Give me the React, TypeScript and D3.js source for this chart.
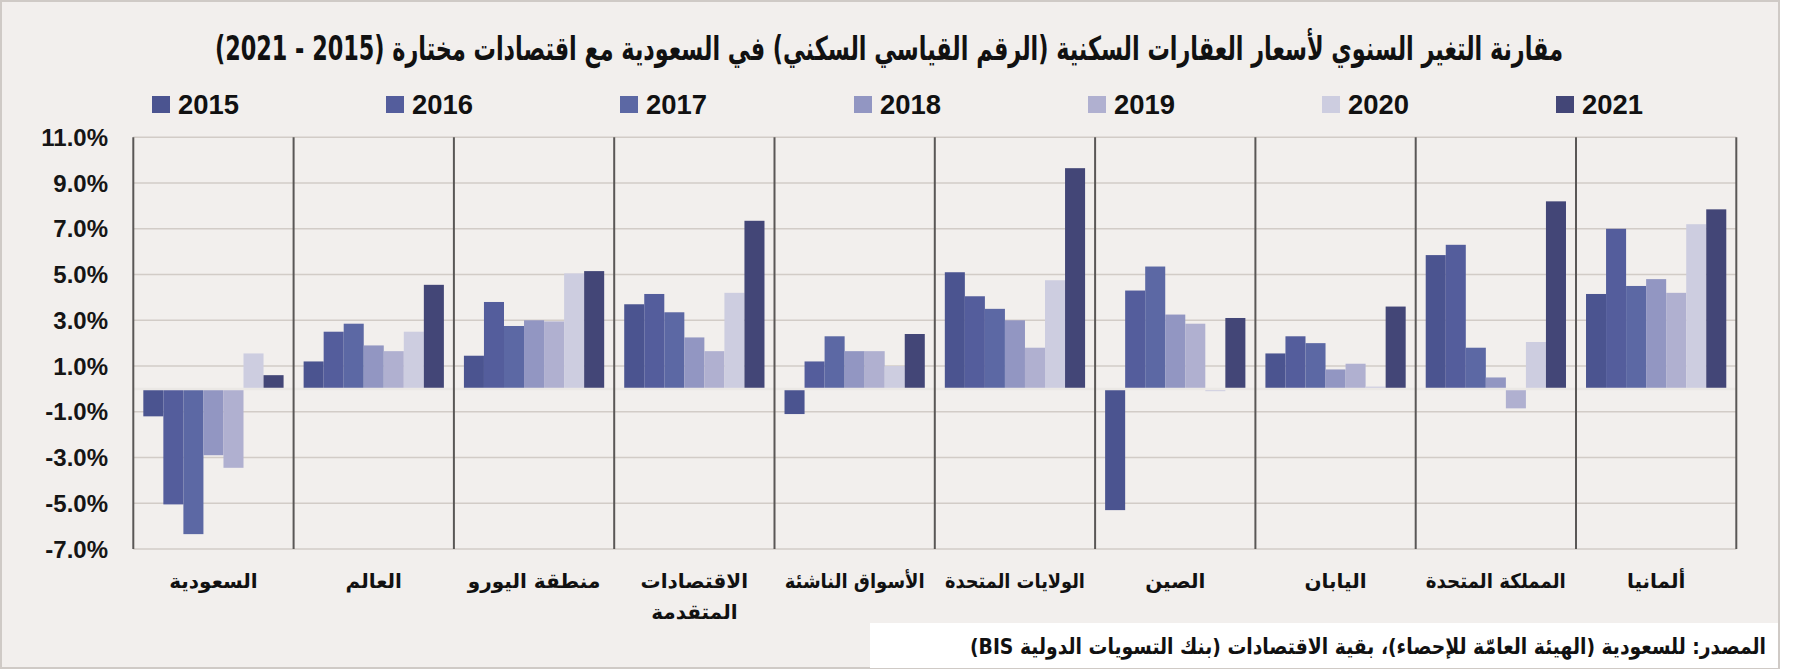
import React, { useEffect, useRef } from "react";
import * as d3 from "d3";

const categories = [
  "السعودية",
  "العالم",
  "منطقة اليورو",
  "الاقتصادات\nالمتقدمة",
  "الأسواق الناشئة",
  "الولايات المتحدة",
  "الصين",
  "اليابان",
  "المملكة المتحدة",
  "ألمانيا",
];
const years = ["2015", "2016", "2017", "2018", "2019", "2020", "2021"];

const s2015 = [-1.2, 1.2, 1.45, 3.7, -1.1, 5.1, -5.3, 1.55, 5.85, 4.15];
const s2016 = [-5.05, 2.5, 3.8, 4.15, 1.2, 4.05, 4.3, 2.3, 6.3, 7.0];
const s2017 = [-6.35, 2.85, 2.75, 3.35, 2.3, 3.5, 5.35, 2.0, 1.8, 4.5];
const s2018 = [-2.9, 1.9, 3.0, 2.25, 1.65, 3.0, 3.25, 0.85, 0.5, 4.8];
const s2019 = [-3.45, 1.65, 2.95, 1.65, 1.65, 1.8, 2.85, 1.1, -0.85, 4.2];
const s2020 = [1.55, 2.5, 5.05, 4.2, 1.0, 4.75, -0.1, 0.1, 2.05, 7.2];
const s2021 = [0.6, 4.55, 5.15, 7.35, 2.4, 9.65, 3.1, 3.6, 8.2, 7.85];
const series = [s2015, s2016, s2017, s2018, s2019, s2020, s2021];

const colors = ["#4b5490", "#545d9c", "#5c68a4", "#9296c2", "#b0b0d0", "#cdcde0", "#434677"];
const tickValues = [11, 9, 7, 5, 3, 1, -1, -3, -5, -7];

const title =
  "مقارنة التغير السنوي لأسعار العقارات السكنية (الرقم القياسي السكني) في السعودية مع اقتصادات مختارة (2015 - 2021)";
const source = "المصدر: للسعودية (الهيئة العامّة للإحصاء)، بقية الاقتصادات (بنك التسويات الدولية BIS)";

const W = 1795;
const H = 672;
const arabicFont = "'DejaVu Sans', sans-serif";
const latinFont = "'Liberation Sans', Arial, sans-serif";

export default function App() {
  const ref = useRef<SVGSVGElement>(null);

  useEffect(() => {
    document.body.style.margin = "0";
    const svg = d3.select(ref.current);
    svg.selectAll("*").remove();

    svg.append("rect").attr("width", W).attr("height", H).attr("fill", "#ffffff");
    svg
      .append("rect")
      .attr("x", 1)
      .attr("y", 1)
      .attr("width", 1778)
      .attr("height", 667)
      .attr("fill", "#f2efed")
      .attr("stroke", "#cfcac6")
      .attr("stroke-width", 2);

    const left = 133.3,
      right = 1736.3,
      top = 137.3,
      bottom = 549;

    const x0 = d3.scaleBand().domain(categories).range([left, right]);
    const x1 = d3
      .scaleBand()
      .domain(years)
      .range([0, x0.bandwidth()])
      .paddingInner(0)
      .paddingOuter(0.5);
    const y = d3.scaleLinear().domain([-7, 11]).range([bottom, top]);

    // title (squeezed to the width of the original)
    svg
      .append("text")
      .attr("x", 889)
      .attr("y", 60)
      .attr("text-anchor", "middle")
      .style("direction", "rtl")
      .attr("font-family", arabicFont)
      .attr("font-weight", "bold")
      .attr("font-size", 33)
      .attr("textLength", 1348)
      .attr("lengthAdjust", "spacingAndGlyphs")
      .attr("fill", "#111")
      .text(title);

    // legend
    const lg = svg.append("g");
    years.forEach((yr, i) => {
      const lx = 152 + i * 234;
      lg.append("rect").attr("x", lx).attr("y", 96).attr("width", 18).attr("height", 17).attr("fill", colors[i]);
      lg.append("text")
        .attr("x", lx + 26)
        .attr("y", 114)
        .attr("font-family", latinFont)
        .attr("font-weight", "bold")
        .attr("font-size", 27)
        .attr("textLength", 61)
        .attr("lengthAdjust", "spacingAndGlyphs")
        .attr("fill", "#111")
        .text(yr);
    });

    // grid lines
    const g = svg.append("g");
    g.selectAll("line.grid")
      .data(tickValues)
      .enter()
      .append("line")
      .attr("x1", left)
      .attr("x2", right)
      .attr("y1", (d) => y(d))
      .attr("y2", (d) => y(d))
      .attr("stroke", "#d2ccc7")
      .attr("stroke-width", 1.5);

    // y tick labels
    g.selectAll("text.tick")
      .data(tickValues)
      .enter()
      .append("text")
      .attr("x", 108)
      .attr("y", (d) => y(d))
      .attr("dy", "0.36em")
      .attr("text-anchor", "end")
      .attr("font-family", latinFont)
      .attr("font-weight", "bold")
      .attr("font-size", 24)
      .attr("fill", "#151515")
      .text((d) => d.toFixed(1) + "%");

    // bars
    categories.forEach((c, ci) => {
      const cg = g.append("g").attr("transform", `translate(${x0(c)},0)`);
      years.forEach((yr, yi) => {
        const v = series[yi][ci];
        cg.append("rect")
          .attr("x", x1(yr)!)
          .attr("width", x1.bandwidth())
          .attr("y", v >= 0 ? y(v) : y(0))
          .attr("height", Math.abs(y(v) - y(0)))
          .attr("fill", colors[yi]);
      });
    });

    // zero line
    g.append("line")
      .attr("x1", left)
      .attr("x2", right)
      .attr("y1", y(0))
      .attr("y2", y(0))
      .attr("stroke", "#ebe8e5")
      .attr("stroke-width", 2.5);

    // category separators
    const seps = categories.map((c) => x0(c)!).concat([right]);
    g.selectAll("line.sep")
      .data(seps)
      .enter()
      .append("line")
      .attr("x1", (d) => d)
      .attr("x2", (d) => d)
      .attr("y1", top)
      .attr("y2", bottom)
      .attr("stroke", "#5a5756")
      .attr("stroke-width", 2);

    // category labels, each line kept inside its band
    categories.forEach((c) => {
      const cx = x0(c)! + x0.bandwidth() / 2;
      c.split("\n").forEach((line, li) => {
        const t = svg
          .append("text")
          .attr("x", cx)
          .attr("y", 588 + li * 31)
          .attr("text-anchor", "middle")
          .style("direction", "rtl")
          .attr("font-family", arabicFont)
          .attr("font-weight", "bold")
          .attr("font-size", 20)
          .attr("fill", "#111")
          .text(line);
        const node = t.node() as SVGTextElement;
        if (node.getComputedTextLength() > 140) {
          t.attr("textLength", 140).attr("lengthAdjust", "spacingAndGlyphs");
        }
      });
    });

    // source box
    svg.append("rect").attr("x", 870).attr("y", 623).attr("width", 908).attr("height", 45).attr("fill", "#ffffff");
    svg
      .append("text")
      .attr("x", 1368)
      .attr("y", 654)
      .attr("text-anchor", "middle")
      .style("direction", "rtl")
      .attr("font-family", arabicFont)
      .attr("font-weight", "bold")
      .attr("font-size", 22)
      .attr("textLength", 796)
      .attr("lengthAdjust", "spacingAndGlyphs")
      .attr("fill", "#111")
      .text(source);
  }, []);

  return <svg ref={ref} width={W} height={H} style={{ display: "block" }}></svg>;
}
